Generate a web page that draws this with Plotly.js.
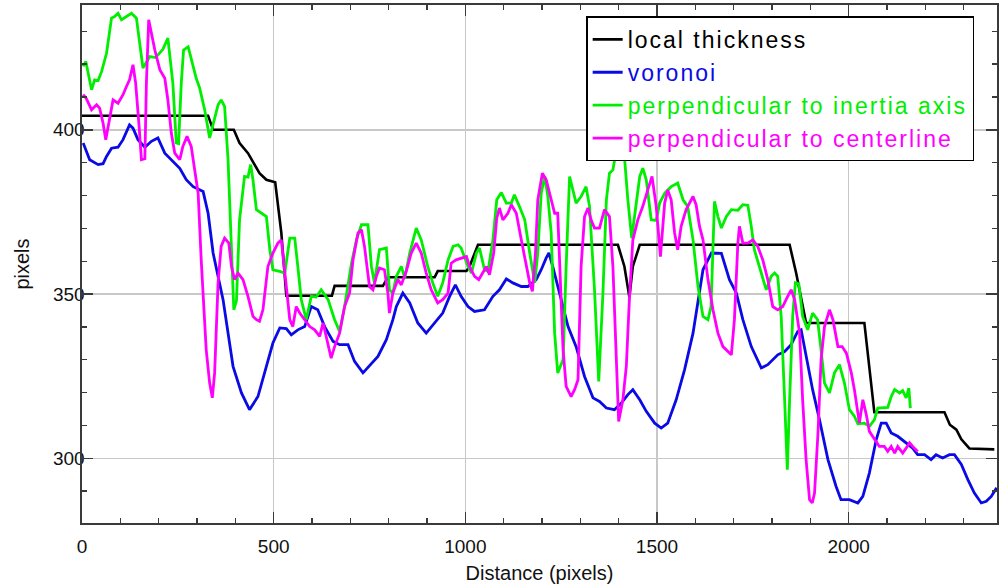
<!DOCTYPE html>
<html>
<head>
<meta charset="utf-8">
<script src="https://cdn.plot.ly/plotly-3.0.1.min.js"></script>
<style>html,body{margin:0;padding:0;background:#fff;}
#wrap{position:relative;width:1006px;height:587px;}
#chart,#frame{position:absolute;left:0;top:0;width:1006px;height:587px;}
#frame{pointer-events:none;}
text.legendtext{letter-spacing:2px;}</style>
</head>
<body>
<div id="wrap"><div id="chart"></div><div id="frame"></div></div>
<script>
// local thickness
const thickX = [0, 329, 342, 396, 411, 433, 463, 481, 504, 520, 533, 652, 659, 785, 798, 920, 928, 1003, 1011, 1024, 1033, 1398, 1415, 1428, 1437, 1455, 1846, 1863, 1889, 2041, 2067, 2250, 2264, 2281, 2294, 2315, 2380];
const thickY = [404.3, 404.3, 400, 400, 396, 392.9, 386.8, 384.8, 384, 368.6, 349.5, 349.5, 352.5, 352.5, 355.1, 355.1, 357, 357, 358.4, 362.5, 365, 365, 358.4, 349.1, 358.4, 365, 365, 356.4, 341.2, 341.2, 314, 314, 310.2, 308.7, 305.8, 303, 302.7];

// voronoi
const voronoiX = [3, 20, 42, 55, 64, 77, 94, 107, 124, 133, 146, 164, 181, 198, 216, 233, 255, 272, 290, 316, 329, 342, 368, 394, 416, 437, 459, 481, 498, 516, 533, 546, 563, 581, 598, 615, 633, 655, 672, 694, 711, 733, 755, 772, 794, 811, 820, 837, 855, 876, 898, 920, 941, 959, 974, 989, 1007, 1024, 1050, 1072, 1089, 1107, 1124, 1146, 1163, 1185, 1198, 1211, 1218, 1228, 1246, 1268, 1289, 1311, 1333, 1350, 1368, 1389, 1407, 1424, 1437, 1455, 1472, 1494, 1511, 1528, 1550, 1572, 1594, 1611, 1620, 1642, 1668, 1689, 1707, 1724, 1746, 1772, 1789, 1815, 1833, 1850, 1867, 1876, 1889, 1906, 1924, 1946, 1967, 1980, 2002, 2024, 2037, 2054, 2072, 2085, 2098, 2111, 2128, 2150, 2167, 2180, 2198, 2215, 2228, 2245, 2263, 2276, 2294, 2311, 2328, 2346, 2359, 2372, 2386];
const voronoiY = [396, 390.9, 389.4, 389.7, 391.9, 394.4, 394.7, 397, 401.5, 400.5, 397, 394.7, 396.5, 397.5, 392.9, 390.9, 388.3, 384.8, 382.7, 381.2, 374.6, 362.5, 348.3, 328, 319.9, 314.8, 318.8, 328, 335.1, 339.7, 339.5, 337.6, 339.1, 340.1, 346.2, 345.2, 340.1, 335.6, 334.6, 334.6, 329.5, 326, 329, 331, 336.1, 342.2, 346.2, 350.3, 347.3, 341.2, 338.1, 341.2, 344.2, 349.3, 352.8, 349.3, 346.2, 344.7, 345.2, 349.3, 351.3, 354.6, 353.4, 352.3, 352.3, 354.4, 357.4, 361, 362.5, 358.4, 350.3, 340.1, 334, 324.9, 318.4, 317.3, 315.3, 314.8, 316.8, 319.4, 320.9, 317.8, 314.3, 310.7, 309.2, 310.7, 317.8, 327, 338.1, 350.3, 357.4, 362.5, 362.4, 354.4, 350.3, 342.2, 334, 327.5, 328.5, 331.5, 332.5, 334.6, 338.6, 339.1, 331, 320.9, 311.7, 299.6, 291.5, 287.4, 287.4, 286.4, 288.4, 295.5, 305.7, 310.7, 310.7, 307.7, 306.7, 304.7, 303.1, 301.1, 301.1, 299.6, 301.1, 300.1, 301.1, 301.1, 298.1, 293.5, 289.4, 286.4, 286.9, 288.4, 291];

// perpendicular to inertia axis
const inertiaX = [3, 10, 25, 33, 42, 51, 64, 77, 85, 94, 103, 116, 129, 142, 150, 159, 177, 192, 211, 224, 237, 246, 252, 259, 265, 277, 290, 298, 307, 320, 333, 342, 355, 363, 372, 381, 390, 396, 403, 411, 424, 433, 440, 446, 455, 468, 481, 490, 498, 516, 529, 542, 555, 563, 572, 585, 598, 611, 624, 642, 659, 672, 685, 703, 716, 729, 746, 755, 763, 776, 794, 802, 811, 820, 833, 842, 855, 872, 885, 902, 915, 928, 941, 955, 968, 981, 989, 1007, 1016, 1029, 1037, 1050, 1059, 1072, 1082, 1094, 1107, 1120, 1128, 1141, 1155, 1168, 1181, 1189, 1198, 1207, 1215, 1224, 1233, 1241, 1255, 1263, 1272, 1289, 1302, 1315, 1324, 1337, 1348, 1359, 1368, 1376, 1385, 1394, 1407, 1415, 1424, 1434, 1446, 1455, 1463, 1472, 1485, 1498, 1507, 1520, 1537, 1554, 1568, 1580, 1594, 1607, 1620, 1633, 1641, 1650, 1659, 1668, 1681, 1694, 1711, 1724, 1737, 1746, 1754, 1767, 1776, 1785, 1798, 1807, 1815, 1824, 1833, 1840, 1846, 1854, 1861, 1870, 1880, 1893, 1906, 1919, 1928, 1937, 1950, 1963, 1976, 1989, 2002, 2015, 2024, 2041, 2054, 2067, 2076, 2089, 2102, 2111, 2120, 2133, 2141, 2150, 2157, 2161];
const inertiaY = [419.3, 420.8, 412.2, 415.2, 415, 417.7, 423.3, 434, 434.5, 435.5, 433.5, 434.5, 435.5, 434, 426.4, 418.8, 422.3, 422, 424.5, 427.9, 414.2, 396, 395.8, 414.2, 424.3, 425.3, 419.3, 415.7, 412.7, 406.1, 397.5, 402, 407.6, 409.1, 407.1, 390.9, 362.5, 345.2, 348, 372.6, 385.8, 385.6, 389.4, 384.8, 375.7, 374.6, 373.6, 363.5, 357.4, 356.9, 356.4, 367, 367, 358.4, 348.3, 342.2, 349.3, 349.1, 351.3, 348.3, 342.2, 338.6, 346.2, 359.4, 366.5, 371.1, 371.1, 358.4, 353.4, 363.5, 364, 351.3, 350.3, 355.4, 358.4, 354.9, 362.5, 370.1, 366.5, 358.4, 353.4, 349.3, 353.4, 360.4, 364.5, 365, 364, 358.4, 356.4, 362.5, 364, 357.4, 356.9, 366.5, 378.7, 380.9, 377.7, 377.7, 380.2, 376.7, 372.6, 362.5, 353.4, 362.5, 380.7, 385.8, 380, 368.6, 338.1, 326, 330, 358.4, 385.8, 377.7, 379.7, 382.7, 376.7, 351.3, 323.4, 350.3, 378.7, 386.8, 387.8, 393.9, 396, 391.9, 378.7, 367, 378.7, 385.8, 388.3, 384.8, 372.6, 372.4, 377.7, 380.7, 382.7, 383.8, 378.7, 376.7, 366.5, 352.3, 343.2, 342.2, 346.2, 378.2, 373.6, 370.1, 373.6, 375.7, 375.5, 377.2, 377, 370.6, 363.5, 358.4, 355.4, 351.3, 355.4, 356.4, 355.4, 343.2, 317.8, 296.5, 317.8, 343.2, 353.4, 353.1, 343.2, 339.1, 344.2, 342.2, 333.1, 322.9, 319.9, 326, 328.5, 322.9, 314.8, 312.8, 310.5, 310.7, 309.7, 311.7, 315.3, 315.3, 315.5, 318.8, 320.9, 319.9, 320.6, 318.4, 321.4, 315.3];

// perpendicular to centerline
const centerX = [3, 11, 25, 38, 46, 55, 62, 70, 81, 94, 107, 116, 124, 133, 140, 149, 155, 164, 168, 174, 181, 190, 203, 216, 224, 233, 242, 255, 263, 274, 285, 294, 303, 311, 324, 333, 340, 346, 355, 363, 372, 383, 390, 398, 407, 420, 433, 446, 455, 463, 472, 485, 498, 511, 520, 533, 542, 550, 559, 568, 581, 594, 607, 620, 629, 642, 650, 659, 672, 685, 698, 707, 720, 729, 737, 750, 759, 768, 776, 789, 798, 802, 811, 824, 833, 846, 859, 872, 885, 898, 911, 928, 941, 955, 963, 976, 989, 1003, 1011, 1024, 1035, 1046, 1055, 1063, 1074, 1082, 1089, 1098, 1111, 1120, 1133, 1146, 1159, 1168, 1175, 1183, 1189, 1201, 1211, 1224, 1233, 1241, 1246, 1255, 1263, 1276, 1285, 1294, 1302, 1311, 1320, 1328, 1337, 1350, 1363, 1376, 1385, 1394, 1400, 1411, 1420, 1428, 1437, 1450, 1463, 1476, 1487, 1498, 1509, 1520, 1528, 1537, 1546, 1554, 1563, 1576, 1594, 1602, 1611, 1620, 1633, 1646, 1659, 1672, 1685, 1694, 1702, 1711, 1715, 1724, 1737, 1750, 1763, 1776, 1789, 1802, 1815, 1828, 1841, 1850, 1859, 1872, 1880, 1889, 1898, 1905, 1911, 1920, 1928, 1937, 1950, 1959, 1972, 1983, 1994, 2007, 2015, 2024, 2028, 2037, 2046, 2054, 2067, 2080, 2093, 2102, 2111, 2120, 2128, 2141, 2150, 2159, 2167, 2180];
const centerY = [410.7, 409.6, 406.1, 407.6, 406.6, 402, 397, 402, 409.1, 408.1, 410.7, 413.2, 415.2, 419.8, 414.2, 401, 390.9, 391.2, 414.2, 433.5, 429.4, 424.3, 418.3, 415.7, 409.1, 399, 392.9, 390.9, 394.9, 398, 394.9, 387.8, 380.7, 360.4, 333.1, 322.9, 318.4, 326, 353.4, 364.5, 367, 365.5, 358.4, 354.4, 356.4, 354.4, 349.3, 343.2, 342.2, 341.7, 345.2, 358.4, 362.5, 365.5, 366.5, 352.3, 342.2, 340.1, 346.2, 344.2, 342.2, 340.1, 339.1, 337.1, 341.2, 335.1, 330.5, 334, 338.1, 346.2, 350.3, 360.4, 368.6, 369.6, 364.5, 352.3, 351.3, 355.4, 357.9, 357.4, 350.3, 344.2, 350.3, 354.4, 352.8, 357, 362.5, 365.5, 362.5, 356.4, 351.3, 347.3, 348.3, 350.3, 359.4, 360.4, 360.9, 361.4, 358.4, 355.4, 354.4, 356.4, 358.4, 355.9, 362.5, 373.1, 376.2, 372.6, 374.6, 377.2, 374.6, 366.5, 358.4, 353.4, 350.8, 362.5, 378.7, 386.8, 384.8, 378.7, 374.6, 374.6, 358.4, 333.1, 321.9, 318.8, 320.9, 323.9, 358.4, 373.6, 376.2, 372.6, 370.1, 370.1, 375.7, 373.6, 358.4, 328, 311.2, 317.8, 328, 348.3, 366.5, 372.6, 376.7, 381.7, 385.8, 376.7, 361.4, 377.7, 381.7, 378.7, 368.6, 363.5, 370.6, 375.7, 379.7, 377.2, 370.6, 366.5, 354.4, 345.2, 338.1, 334, 332.5, 331.5, 342.2, 365.5, 370.6, 365.5, 365.5, 366.5, 364.5, 360.4, 354.4, 346.2, 345.2, 346.2, 349.3, 351.3, 348.3, 338.1, 317.8, 299.6, 287.4, 286.4, 289.4, 307.7, 330, 340.1, 345.2, 342.2, 334, 334, 332, 326, 320.9, 313.8, 310.7, 317.8, 313.3, 308.2, 305.7, 303.6, 303.6, 302.1, 303.6, 301.6, 303.6, 301.6, 303.1, 304.7, 303.6, 302.1];

const seriesNames = ['local thickness', 'voronoi', 'perpendicular to inertia axis', 'perpendicular to centerline'];
const seriesColors = ['#000000', '#0a0ae6', '#00ee00', '#ff00ff'];
const xRange = [0, 2387];
const yRange = [280.3, 438.0];

const FONT = 'Liberation Sans, Arial, sans-serif';
const xs = [thickX, voronoiX, inertiaX, centerX];
const ys = [thickY, voronoiY, inertiaY, centerY];
const MARGIN = {l: 82, r: 9, t: 5, b: 64};

const traces = seriesNames.map((n, i) => ({
  type: 'scatter', mode: 'lines', x: xs[i], y: ys[i],
  name: '<span style="color:' + seriesColors[i] + '">' + n + '</span>',
  line: {color: seriesColors[i], width: i === 0 ? 2.6 : 2.8},
  hoverinfo: 'skip'
}));

// main chart: data, grid, labels, titles, legend
const mainAxis = {
  showline: true, linecolor: '#3a3a3a', linewidth: 1.6, mirror: true,
  ticks: '', showgrid: true, gridcolor: '#c8c8c8', gridwidth: 1.5, zeroline: false,
  tickfont: {family: FONT, size: 19, color: '#111'}
};
const layout = {
  width: 1006, height: 587, margin: MARGIN,
  paper_bgcolor: '#fff', plot_bgcolor: '#fff',
  showlegend: true,
  xaxis: Object.assign({}, mainAxis, {
    range: xRange, tickmode: 'linear', tick0: 0, dtick: 500,
    ticklabelstandoff: 6,
    title: {text: 'Distance (pixels)', font: {family: FONT, size: 20, color: '#111'}, standoff: 9}
  }),
  yaxis: Object.assign({}, mainAxis, {
    range: yRange, tickmode: 'linear', tick0: 300, dtick: 50,
    ticklabelstandoff: -8,
    title: {text: 'pixels', font: {family: FONT, size: 20, color: '#111'}, standoff: 18}
  }),
  legend: {
    x: 0.551, y: 0.978, xanchor: 'left', yanchor: 'top',
    bgcolor: '#fff', bordercolor: '#000', borderwidth: 1.5,
    font: {family: FONT, size: 23, color: '#000'}
  }
};

// overlay: the same axes again, drawing only the inward major and minor ticks on all four sides
const tickAxis = {
  showline: true, linecolor: '#3a3a3a', linewidth: 1.6, mirror: 'allticks',
  ticks: 'inside', ticklen: 11, tickwidth: 1.4, tickcolor: '#3a3a3a',
  showgrid: false, zeroline: false, showticklabels: false
};
const frameLayout = {
  width: 1006, height: 587, margin: MARGIN,
  paper_bgcolor: 'rgba(0,0,0,0)', plot_bgcolor: 'rgba(0,0,0,0)',
  showlegend: false,
  xaxis: Object.assign({}, tickAxis, {range: xRange, tickmode: 'linear', tick0: 0, dtick: 500,
    minor: {dtick: 100, ticks: 'inside', ticklen: 5}}),
  yaxis: Object.assign({}, tickAxis, {range: yRange, tickmode: 'linear', tick0: 300, dtick: 50,
    minor: {dtick: 10, ticks: 'inside', ticklen: 5}})
};

Plotly.newPlot('chart', traces, layout, {staticPlot: true});
Plotly.newPlot('frame', [{type: 'scatter', mode: 'lines', x: thickX, y: thickY, line: {color: 'rgba(0,0,0,0)', width: 0}, hoverinfo: 'skip', showlegend: false}], frameLayout, {staticPlot: true});
</script>
</body>
</html>
